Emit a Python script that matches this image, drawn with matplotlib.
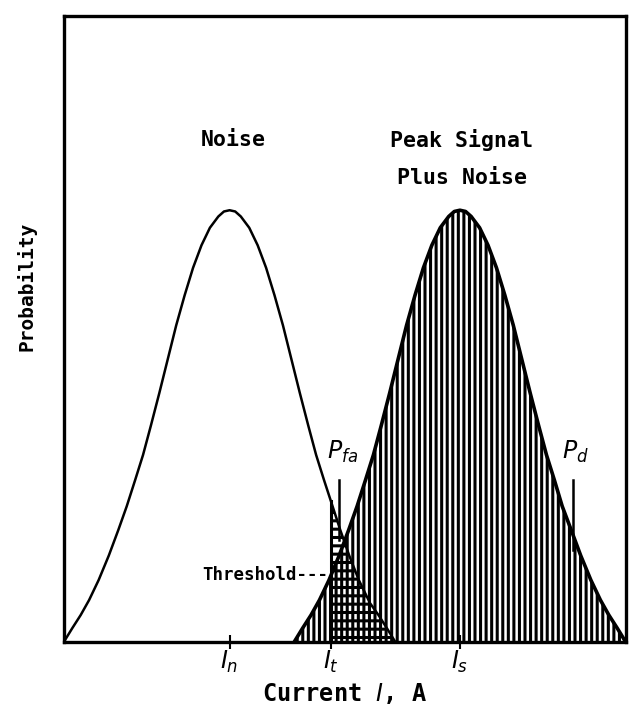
import numpy as np
import matplotlib
matplotlib.use("Agg")
import matplotlib.pyplot as plt

# probability curves, current in arbitrary units across the axis (0-100)
noise_x = [0, 1.5, 3.0, 4.5, 6.2, 8.0, 9.7, 11.2, 12.7, 14.1, 15.5, 17.0, 18.5, 20.0,
           21.5, 23.0, 24.5, 26.0, 27.5, 28.5, 29.5, 30.5, 31.5, 33.0, 34.5, 36.0, 37.5,
           39.0, 40.5, 42.0, 43.5, 44.9, 46.3, 47.5, 49.2, 50.8, 52.5, 54.5, 56.0, 57.5, 59.0]
noise_p = [0, 2.2, 4.3, 6.7, 9.9, 13.8, 17.9, 21.7, 25.9, 29.9, 34.6, 39.8, 45.2, 50.6,
           55.4, 59.8, 63.4, 66.2, 68.0, 68.8, 69.0, 68.8, 68.0, 66.2, 63.4, 59.8, 55.4,
           50.6, 45.2, 39.8, 34.6, 29.9, 25.9, 22.6, 17.9, 13.8, 9.9, 6.2, 4.3, 2.2, 0]
signal_x = [41.0, 42.5, 44.0, 45.5, 47.2, 49.0, 50.7, 52.2, 53.7, 55.1, 56.5, 58.0, 59.5,
            61.0, 62.5, 64.0, 65.5, 67.0, 68.5, 69.5, 70.5, 71.5, 72.5, 74.0, 75.5, 77.0,
            78.5, 80.0, 81.5, 83.0, 84.5, 85.9, 87.3, 88.7, 90.3, 92.0, 93.8, 95.5, 97.0,
            98.5, 100.0]
signal_p = [0, 2.2, 4.3, 6.7, 9.9, 13.8, 17.9, 21.7, 25.9, 29.9, 34.6, 39.8, 45.2, 50.6,
            55.4, 59.8, 63.4, 66.2, 68.0, 68.8, 69.0, 68.8, 68.0, 66.2, 63.4, 59.8, 55.4,
            50.6, 45.2, 39.8, 34.6, 29.9, 25.9, 21.7, 17.9, 13.8, 9.9, 6.7, 4.3, 2.2, 0]

i_noise = 29.5
i_thresh = 47.5
i_signal = 70.5
tick_pos = [i_noise, i_thresh, i_signal]
tick_lbl = [r"$I_n$", r"$I_t$", r"$I_s$"]

noise_x = np.array(noise_x)
noise_p = np.array(noise_p)
signal_x = np.array(signal_x)
signal_p = np.array(signal_p)

plt.rcParams["hatch.linewidth"] = 2.2
plt.rcParams["font.family"] = ["DejaVu Sans Mono"]
plt.rcParams["mathtext.fontset"] = "dejavusans"

fig = plt.figure(figsize=(6.32, 7.07), dpi=100)
ax = fig.add_axes([0.101, 0.092, 0.889, 0.885])

# signal + noise, vertical hatch
ax.fill_between(signal_x, 0, signal_p, facecolor="none", edgecolor="black",
                hatch="|||", linewidth=0)
ax.plot(signal_x, signal_p, color="black", lw=2.6)

# false alarm tail of the noise curve, horizontal hatch
tail = noise_x >= i_thresh
ax.fill_between(noise_x[tail], 0, noise_p[tail], facecolor="none", edgecolor="black",
                hatch="--", linewidth=0)
ax.plot(noise_x, noise_p, color="black", lw=1.8)

thr_top = np.interp(i_thresh, noise_x, noise_p)
ax.plot([i_thresh, i_thresh], [0, thr_top], color="black", lw=2.2)

# pointers for Pfa and Pd
ax.plot([48.9, 48.9], [16.3, 25.9], color="black", lw=1.8)
ax.plot([90.6, 90.6], [14.7, 25.9], color="black", lw=1.8)
ax.text(46.8, 29.2, r"$P_{fa}$", fontsize=17, ha="left", va="baseline")
ax.text(88.6, 29.2, r"$P_d$", fontsize=17, ha="left", va="baseline")

ax.text(47.1, 10.7, "Threshold---", fontsize=12.5, fontweight="bold", ha="right", va="center")
ax.text(30.1, 80.2, "Noise", fontsize=15.5, fontweight="bold", ha="center", va="center")
ax.text(70.8, 80.2, "Peak Signal", fontsize=15.5, fontweight="bold", ha="center", va="center")
ax.text(70.8, 74.1, "Plus Noise", fontsize=15.5, fontweight="bold", ha="center", va="center")

ax.set_xlim(0, 100)
ax.set_ylim(0, 100)
ax.set_xticks(tick_pos)
ax.set_xticklabels(tick_lbl, fontsize=17)
ax.tick_params(axis="x", direction="inout", length=10, width=1.5, pad=0)
ax.set_yticks([])
for s in ax.spines.values():
    s.set_linewidth(2.4)

fig.text(0.042, 0.595, "Probability", rotation=90, fontsize=14, fontweight="bold",
         ha="center", va="center")
fig.text(0.545, 0.019, r"Current $I$, A", fontsize=17, fontweight="bold",
         ha="center", va="center")

fig.savefig("out.png", dpi=100)
